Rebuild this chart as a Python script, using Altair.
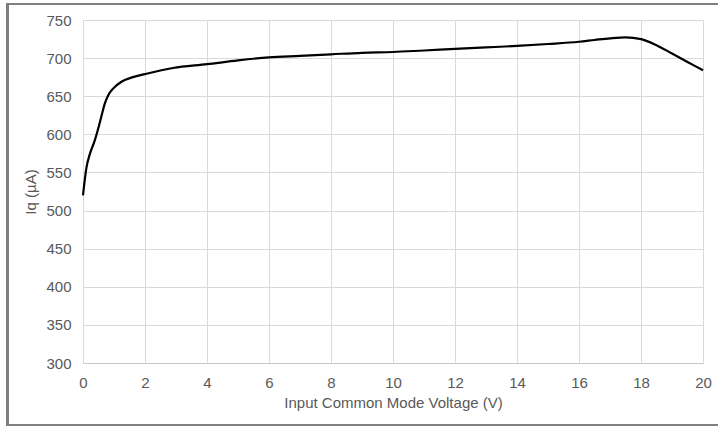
import altair as alt
import pandas as pd

vcm = [0, 0.11, 0.22, 0.38, 0.48, 0.59, 0.7, 0.81, 0.97, 1.24, 1.61, 2, 2.9, 4, 5, 6, 7, 8, 9, 10, 11, 12, 13, 14, 15, 16, 16.5, 17, 17.5, 18, 18.5, 19, 19.5, 20]
iq = [520, 556, 574, 592, 606, 623, 640, 651, 660, 669, 675, 679, 687, 692, 697, 701, 703, 705, 707, 708, 710, 712, 714, 716, 718.5, 721.5, 723.8, 726, 727.3, 725, 717, 706, 695, 684]

df = pd.DataFrame({"vcm": vcm, "iq": iq})

label_color = "#595959"
font = "Liberation Sans"

line = alt.Chart(df).mark_line(color="black", strokeWidth=2.2, interpolate="monotone").encode(
    x=alt.X("vcm:Q", scale=alt.Scale(domain=[0, 20], nice=False),
            axis=alt.Axis(values=[0, 2, 4, 6, 8, 10, 12, 14, 16, 18, 20], title="Input Common Mode Voltage (V)",
                          grid=True, gridColor="#d9d9d9", domainColor="#c8c8c8", ticks=False,
                          labelFlush=False, labelBound=False,
                          labelPadding=12, labelFontSize=15, labelColor=label_color, labelFont=font,
                          titleFontSize=15, titleColor=label_color, titleFont=font, titleFontWeight="normal",
                          titlePadding=5)),
    y=alt.Y("iq:Q", scale=alt.Scale(domain=[300, 750], nice=False),
            axis=alt.Axis(values=[300, 350, 400, 450, 500, 550, 600, 650, 700, 750], title="Iq (µA)",
                          grid=True, gridColor="#d9d9d9", domain=False, ticks=False,
                          labelFlush=False, labelBound=False,
                          labelPadding=12, labelFontSize=15, labelColor=label_color, labelFont=font,
                          titleFontSize=15, titleColor=label_color, titleFont=font, titleFontWeight="normal",
                          titlePadding=7)),
)

border = alt.Chart(df).mark_rect(fill=None, stroke="#7f7f7f", strokeWidth=2).encode(
    x=alt.value(-75.5), x2=alt.value(645), y=alt.value(-16), y2=alt.value(405)
)

chart = alt.layer(line, border).properties(
    width=620, height=343,
    autosize=alt.AutoSizeParams(type="none"),
    padding={"left": 83, "top": 20, "right": 15, "bottom": 64},
    background="white",
).configure_view(stroke="#d9d9d9")

chart.save("out.html", embed_options={"renderer": "svg", "actions": False})
